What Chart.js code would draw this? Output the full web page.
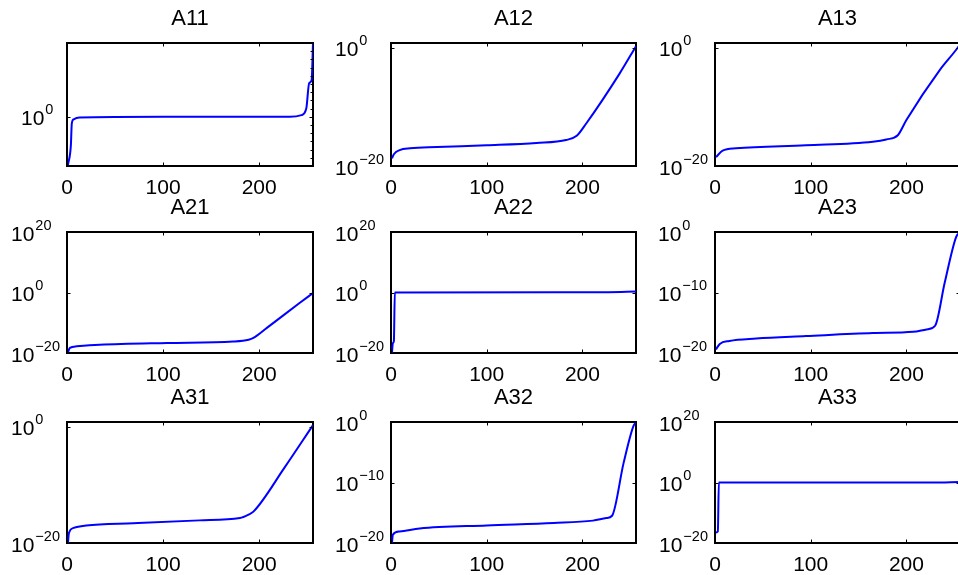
<!DOCTYPE html>
<html>
<head>
<meta charset="utf-8">
<script src="https://cdn.jsdelivr.net/npm/chart.js@4.4.1/dist/chart.umd.min.js"></script>
<style>
  html, body { margin: 0; padding: 0; overflow: hidden; background: #fff; width: 958px; height: 575px; }
  canvas { position: absolute; left: 0; top: 0; }
</style>
</head>
<body>
<div id="wrap"></div>
<script>
// ==========================================================================================================
// -- Data --
// ==========================================================================================================

const xTicks = [0, 100, 200];

const a11X = [1, 4, 5, 7, 13, 100, 200, 232, 244, 249, 252, 254.6, 256];
const a11Y = [1.3e-6, 3e-4, 0.16, 0.5, 0.8, 1, 1, 1, 1.6, 10, 1.3e4, 3e4, 1e9];

const a12X = [1, 3, 9, 20, 48, 100, 152, 183, 194, 204, 239, 256];
const a12Y = [2e-19, 1e-18, 5e-18, 1e-17, 1.6e-17, 3.2e-17, 7.9e-17, 2.5e-16, 1.3e-15, 1.6e-13, 5e-5, 2];

const a13X = [1, 8, 22, 95, 165, 179, 191, 200, 235, 252, 256];
const a13Y = [3.2e-19, 4e-18, 1e-17, 3.2e-17, 1.3e-16, 3.2e-16, 1.6e-15, 6.3e-13, 2e-4, 0.5, 4];

const a21X = [1, 3, 10, 34, 104, 173, 189, 194, 208, 242, 256];
const a21Y = [1.6e-20, 5e-19, 1.6e-18, 5e-18, 2e-17, 6.3e-17, 2.5e-16, 1e-15, 2e-12, 3.2e-4, 0.63];

const a22X = [1, 2, 3, 4, 227, 256];
const a22Y = [1e-20, 2e-17, 8e-17, 1, 1.3, 2];

const a23X = [1, 5, 15, 43, 95, 165, 207, 221, 230, 240, 252, 256];
const a23Y = [4e-20, 3.2e-19, 1e-18, 2.5e-18, 6.3e-18, 2e-17, 3.2e-17, 7.9e-17, 3.2e-16, 4e-9, 0.16, 1];

const a31X = [1, 2, 7, 20, 69, 138, 180, 189, 194, 226, 256];
const a31Y = [1e-20, 5e-19, 4e-18, 1e-17, 2.5e-17, 7.9e-17, 2e-16, 7.9e-16, 2.5e-15, 7.9e-8, 2];

const a32X = [1, 2, 9, 30, 100, 170, 211, 225, 231, 243, 253, 256];
const a32Y = [1e-20, 2.5e-19, 7.9e-19, 2.5e-18, 7.9e-18, 2e-17, 5e-17, 1.3e-16, 3.2e-16, 1.6e-7, 0.16, 1];

const a33X = [1, 3, 4, 227, 256];
const a33Y = [3.2e-17, 6.3e-17, 1, 1, 1.6];

// y tick values per panel
const ticksA11 = [1];
const ticksTwo = [1e-20, 1];
const ticksWide = [1e-20, 1, 1e20];
const ticksNarrow = [1e-20, 1e-10, 1];

// ==========================================================================================================
// -- Layout --
// ==========================================================================================================

const CW = 980, CH = 575;
const colLeft = [67, 391, 715];
const colRight = [313, 636, 960];
const rowTop = [43, 232, 422];
const rowBottom = [166, 353, 543];
const FONT = '"Liberation Sans", Arial, Helvetica, sans-serif';

const panels = [
    { title: 'A11', x: a11X, y: a11Y, min: 1e-6,  max: 1e9,  ticks: ticksA11,    indent: 46, minor: true },
    { title: 'A12', x: a12X, y: a12Y, min: 1e-20, max: 7,    ticks: ticksTwo,    indent: 56 },
    { title: 'A13', x: a13X, y: a13Y, min: 1e-20, max: 7,    ticks: ticksTwo,    indent: 56 },
    { title: 'A21', x: a21X, y: a21Y, min: 1e-20, max: 1e20, ticks: ticksWide,   indent: 56 },
    { title: 'A22', x: a22X, y: a22Y, min: 1e-20, max: 1e20, ticks: ticksWide,   indent: 56 },
    { title: 'A23', x: a23X, y: a23Y, min: 1e-20, max: 1,    ticks: ticksNarrow, indent: 57 },
    { title: 'A31', x: a31X, y: a31Y, min: 1e-20, max: 7,    ticks: ticksTwo,    indent: 56 },
    { title: 'A32', x: a32X, y: a32Y, min: 1e-20, max: 1,    ticks: ticksNarrow, indent: 56 },
    { title: 'A33', x: a33X, y: a33Y, min: 1e-20, max: 1e20, ticks: ticksWide,   indent: 56 },
];

// MATLAB style box, inner ticks, 10^n labels and title ---------------------------------------------
const matlabAxes = {
    id: 'matlabAxes',
    beforeDatasetsDraw(chart) {
        const { ctx, chartArea: a } = chart;
        ctx.save();
        ctx.strokeStyle = '#000';
        ctx.lineWidth = 2;
        ctx.strokeRect(a.left, a.top, a.right - a.left, a.bottom - a.top);
        ctx.restore();
    },
    afterDatasetsDraw(chart, args, opts) {
        const { ctx, chartArea: a } = chart;
        const xs = chart.scales.x, ys = chart.scales.y;
        ctx.save();
        ctx.strokeStyle = '#000';
        ctx.fillStyle = '#000';

        // tick marks (inside, on all four sides)
        ctx.lineWidth = 1;
        ctx.beginPath();
        xTicks.forEach(v => {
            const px = Math.round(xs.getPixelForValue(v)) + 0.5;
            ctx.moveTo(px, a.top); ctx.lineTo(px, a.top + 3.5);
            ctx.moveTo(px, a.bottom); ctx.lineTo(px, a.bottom - 3.5);
        });
        opts.ticks.forEach(v => {
            const py = Math.round(ys.getPixelForValue(v)) + 0.5;
            ctx.moveTo(a.left, py); ctx.lineTo(a.left + 3.5, py);
            ctx.moveTo(a.right, py); ctx.lineTo(a.right - 3.5, py);
        });
        if (opts.minor) {
            const lo = Math.ceil(Math.log10(ys.min)), hi = Math.floor(Math.log10(ys.max));
            for (let e = lo; e <= hi; e++) {
                const py = Math.round(ys.getPixelForValue(Math.pow(10, e))) + 0.5;
                ctx.moveTo(a.right, py); ctx.lineTo(a.right - 2.5, py);
            }
        }
        ctx.stroke();

        // x labels
        ctx.font = `21px ${FONT}`;
        ctx.textAlign = 'center';
        ctx.textBaseline = 'alphabetic';
        xTicks.forEach(v => ctx.fillText(String(v), xs.getPixelForValue(v), a.bottom + 27.5));

        // y labels as 10 with a raised exponent
        ctx.textAlign = 'left';
        opts.ticks.forEach(v => {
            const py = ys.getPixelForValue(v);
            const exp = Math.round(Math.log10(v));
            const bx = a.left - opts.indent;
            ctx.font = `21px ${FONT}`;
            ctx.fillText('10', bx, py + 8.5);
            const w = ctx.measureText('10').width;
            ctx.font = `14.5px ${FONT}`;
            ctx.fillText(exp < 0 ? '\u2212' + (-exp) : String(exp), bx + w + 1, py - 2.5);
        });

        // title
        ctx.font = `22px ${FONT}`;
        ctx.textAlign = 'center';
        ctx.fillText(opts.title, (a.left + a.right) / 2, a.top - 18);
        ctx.restore();
    }
};

// ==========================================================================================================
// -- Build the nine charts --
// ==========================================================================================================

const wrap = document.getElementById('wrap');

panels.forEach((p, i) => {
    const r = Math.floor(i / 3), c = i % 3;
    const canvas = document.createElement('canvas');
    canvas.width = CW;
    canvas.height = CH;
    canvas.style.width = CW + 'px';
    canvas.style.height = CH + 'px';
    wrap.appendChild(canvas);

    new Chart(canvas.getContext('2d'), {
        type: 'line',
        data: {
            datasets: [{
                data: p.x.map((x, k) => ({ x: x, y: p.y[k] })),
                borderColor: '#0000ff',
                borderWidth: 2,
                pointRadius: 0,
                fill: false,
                cubicInterpolationMode: 'monotone',
            }],
        },
        options: {
            responsive: false,
            animation: false,
            devicePixelRatio: 1,
            events: [],
            layout: {
                padding: {
                    left: colLeft[c],
                    top: rowTop[r],
                    right: CW - colRight[c],
                    bottom: CH - rowBottom[r],
                },
            },
            plugins: {
                legend: { display: false },
                tooltip: { enabled: false },
                matlabAxes: { title: p.title, ticks: p.ticks, indent: p.indent, minor: !!p.minor },
            },
            scales: {
                x: { type: 'linear', min: 0, max: 256, display: false },
                y: { type: 'logarithmic', min: p.min, max: p.max, display: false },
            },
        },
        plugins: [matlabAxes],
    });
});
</script>
</body>
</html>
